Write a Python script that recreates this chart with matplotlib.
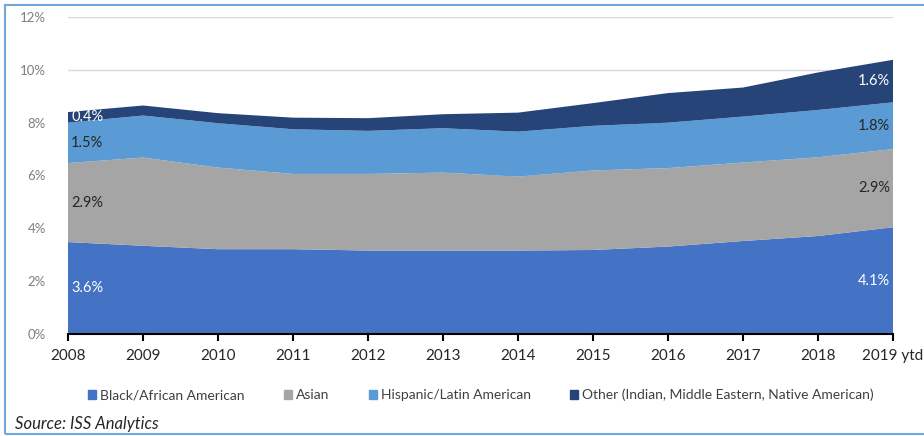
import matplotlib.pyplot as plt
import matplotlib.patches as patches
import numpy as np

plt.rcParams['font.family'] = ['Lato', 'DejaVu Sans']

years = ['2008', '2009', '2010', '2011', '2012', '2013', '2014', '2015', '2016', '2017', '2018', '2019 ytd']
black = [3.48, 3.34, 3.21, 3.21, 3.16, 3.16, 3.16, 3.18, 3.31, 3.52, 3.71, 4.04]
asian = [2.99, 3.34, 3.09, 2.85, 2.90, 2.95, 2.80, 3.01, 2.97, 2.97, 2.98, 2.96]
hispanic = [1.53, 1.59, 1.68, 1.69, 1.63, 1.68, 1.70, 1.69, 1.72, 1.74, 1.79, 1.77]
other = [0.40, 0.38, 0.38, 0.44, 0.48, 0.53, 0.72, 0.86, 1.12, 1.10, 1.42, 1.61]

names = ['Black/African American', 'Asian', 'Hispanic/Latin American',
         'Other (Indian, Middle Eastern, Native American)']
colors = ['#4472C4', '#A5A5A5', '#5B9BD5', '#264478']
label_colors = ['white', '#262626', '#262626', 'white']
first_labels = ['3.6%', '2.9%', '1.5%', '0.4%']
last_labels = ['4.1%', '2.9%', '1.8%', '1.6%']

series = [black, asian, hispanic, other]
x = np.arange(len(years))

fig = plt.figure(figsize=(9.24, 4.36), dpi=100)
ax = fig.add_axes([68 / 924, 102 / 436, 825 / 924, 317 / 436])

ax.stackplot(x, *series, colors=colors, labels=names, zorder=2)

ax.set_xlim(0, len(years) - 1)
ax.set_ylim(0, 12)
ax.set_yticks(np.arange(0, 13, 2))
ax.set_yticklabels(['{}%'.format(v) for v in range(0, 13, 2)])
ax.yaxis.grid(True, color='#D9D9D9', linewidth=1, zorder=0)
ax.set_axisbelow(True)
ax.tick_params(axis='y', length=0, labelsize=9.5, labelcolor='#7F7F7F', pad=16)

ax.set_xticks(x)
ax.set_xticklabels(years)
ax.tick_params(axis='x', direction='out', length=5, width=1.5, color='black',
               labelsize=11, labelcolor='#262626', pad=6)

for side in ['left', 'right', 'top']:
    ax.spines[side].set_visible(False)
ax.spines['bottom'].set_color('black')
ax.spines['bottom'].set_linewidth(1.5)
ax.spines['bottom'].set_zorder(3)

# labels on first and last year, in the middle of each band
bottoms = np.cumsum([0] + [s[0] for s in series[:-1]])
for i in range(len(series)):
    mid = bottoms[i] + series[i][0] / 2
    ax.text(0.04, mid, first_labels[i], color=label_colors[i], fontsize=10.5,
            ha='left', va='center', zorder=4)

bottoms = np.cumsum([0] + [s[-1] for s in series[:-1]])
for i in range(len(series)):
    mid = bottoms[i] + series[i][-1] / 2
    ax.text(len(years) - 1 - 0.04, mid, last_labels[i], color=label_colors[i], fontsize=10.5,
            ha='right', va='center', zorder=4)

handles = [patches.Patch(color=c) for c in colors]
fig.legend(handles, names, loc='center', bbox_to_anchor=(481 / 924, 1 - 395 / 436),
           ncol=4, frameon=False, fontsize=10, handlelength=0.6, handleheight=0.6,
           handletextpad=0.3, columnspacing=2.8, labelcolor='#404040')

fig.text(15 / 924, 1 - 424 / 436, 'Source: ISS Analytics', fontsize=12, style='italic',
         color='#262626', ha='left', va='center')

border = patches.Rectangle((5 / 924, 2 / 436), 1.0, 429 / 436, transform=fig.transFigure,
                           fill=False, edgecolor='#6FA8DC', linewidth=1.5)
fig.patches.append(border)

plt.savefig('out.png', dpi=100)
